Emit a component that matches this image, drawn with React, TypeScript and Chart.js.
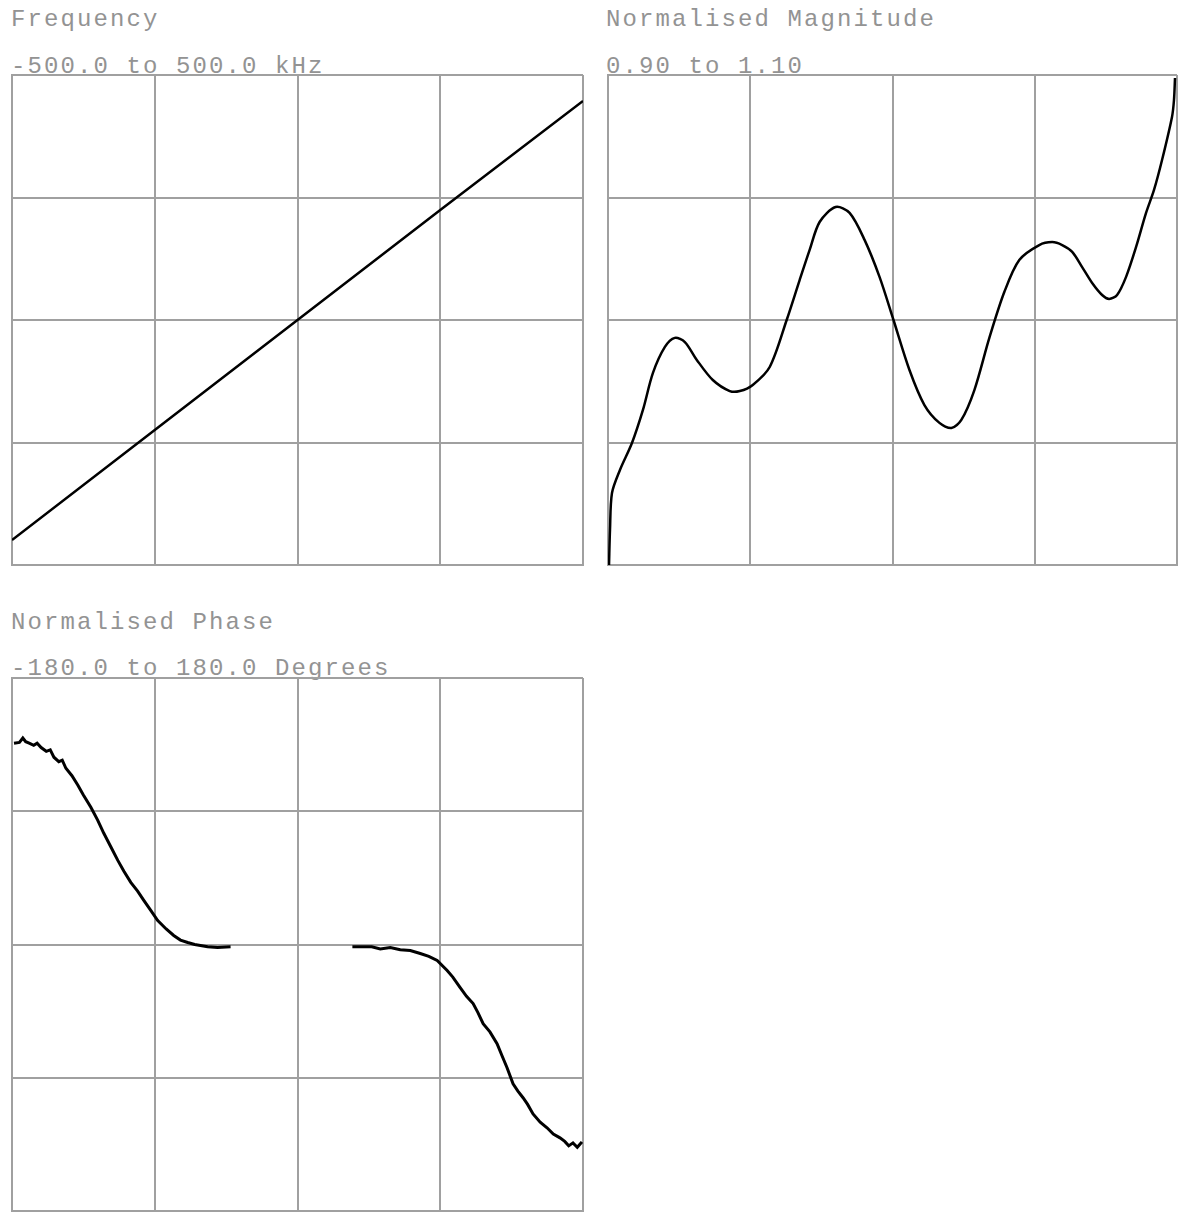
import React, { useEffect, useRef } from "react";
import { Chart, registerables } from "chart.js";

Chart.register(...registerables);

// ---- Data ----
const freqX = [-500, -250, 0, 250, 500];
const freqY = [-449, -224.5, 0, 224.5, 447];

const magX = [
  -498.2, -496.5, -493, -479, -457.9, -438.6, -421, -400, -382.5, -364.9, -343.9, -315.8, -286, -268.4,
  -245.6, -215.8, -186, -163.2, -145.6, -128.1, -100, -75.4, -49.1, -22.8, 1.75, 29.8, 56.1, 82.5, 103.5,
  121, 143.9, 170.2, 196.5, 222.8, 257.9, 280.7, 298.2, 315.8, 333.3, 350.9, 368.4, 380.7, 394.7, 410.5,
  428.1, 445.6, 459.6, 473.7, 491.2, 494.7, 496.5,
];
const magY = [
  0.9, 0.9143, 0.9294, 0.9388, 0.9498, 0.9633, 0.9784, 0.989, 0.9927, 0.991, 0.9837, 0.9755, 0.971, 0.971,
  0.9735, 0.9808, 1.0, 1.0163, 1.0286, 1.04, 1.0461, 1.0437, 1.0327, 1.0176, 1.0, 0.9796, 0.9653, 0.958,
  0.9559, 0.9592, 0.9714, 0.9927, 1.0114, 1.0245, 1.0306, 1.0318, 1.0306, 1.0278, 1.0216, 1.0151, 1.0102,
  1.0086, 1.0102, 1.0176, 1.0298, 1.0437, 1.0531, 1.0653, 1.0829, 1.0898, 1.0988,
];

const phaseX = [
  -496.5, -487, -481, -476, -470, -462, -456, -449, -440, -433, -426.6, -418, -412, -405.6, -395, -384.6,
  -375, -361.9, -350, -339.2, -327, -314.7, -304, -292, -280, -269.2, -257, -244.8, -230, -216.8, -205,
  -192.3, -180, -157.4, -140, -117.2, 0, 96.1, 130, 145, 162.5, 180, 197.5, 215, 230, 244.6, 262.1, 272,
  284.9, 296, 307.6, 316, 325.1, 337, 349.5, 358, 367, 377.5, 386, 395, 403, 412.5, 425, 437, 448, 459.7,
  468, 475, 482.4, 490, 498.1,
];
const phaseY: (number | null)[] = [
  136, 136.5, 139.5, 137, 136, 134.5, 136, 133, 130.5, 131.5, 126.5, 123.5, 124.5, 119, 114, 107.6, 101,
  92.7, 84, 75.1, 66, 56.8, 49.5, 42, 36, 29.8, 23, 16.2, 10.5, 6.1, 3, 1.35, 0, -1.5, -2, -1.5, null, -1.5,
  -1.5, -3, -2, -3.5, -4.1, -6.1, -8, -10.8, -17.6, -22, -29.1, -35, -39.9, -46, -53.5, -59, -67, -75,
  -83.2, -94.1, -99, -103.5, -108, -114.4, -120, -123.8, -128, -130.6, -133, -136, -134, -137, -133.3,
];

const titles = [
  { name: "Frequency", range: "-500.0 to 500.0 kHz" },
  { name: "Normalised Magnitude", range: "0.90 to 1.10" },
  { name: "Normalised Phase", range: "-180.0 to 180.0 Degrees" },
];

const GRID = "#a0a0a0";
const PAD = 4;

type PanelProps = {
  left: number;
  top: number;
  width: number;
  height: number;
  xs: number[];
  ys: (number | null)[];
  yMin: number;
  yMax: number;
  yStep: number;
  lineWidth: number;
  tension: number;
};

function Panel({ left, top, width, height, xs, ys, yMin, yMax, yStep, lineWidth, tension }: PanelProps) {
  const ref = useRef<HTMLCanvasElement>(null);
  useEffect(() => {
    if (!ref.current) return;
    const data = xs.map((x, i) => ({ x, y: ys[i] }));
    const chart = new Chart(ref.current, {
      type: "line",
      data: {
        datasets: [
          {
            data: data as any,
            borderColor: "#000",
            borderWidth: lineWidth,
            pointRadius: 0,
            tension,
            spanGaps: false,
          },
        ],
      },
      options: {
        animation: false,
        responsive: false,
        layout: { padding: PAD },
        plugins: { legend: { display: false }, tooltip: { enabled: false }, title: { display: false } },
        scales: {
          x: {
            type: "linear",
            min: -500,
            max: 500,
            ticks: { display: false, stepSize: 250 },
            grid: { color: GRID, lineWidth: 2, drawTicks: false },
            border: { display: true, color: GRID, width: 2 },
            afterFit: (s: any) => {
              s.height = 0;
            },
          },
          y: {
            type: "linear",
            min: yMin,
            max: yMax,
            ticks: { display: false, stepSize: yStep },
            grid: { color: GRID, lineWidth: 2, drawTicks: false },
            border: { display: true, color: GRID, width: 2 },
            afterFit: (s: any) => {
              s.width = 0;
            },
          },
        },
      },
    });
    return () => chart.destroy();
  }, []);
  return (
    <canvas
      ref={ref}
      width={width + PAD * 2}
      height={height + PAD * 2}
      style={{ position: "absolute", left: left - PAD, top: top - PAD, width: width + PAD * 2, height: height + PAD * 2 }}
    />
  );
}

const textStyle: React.CSSProperties = {
  position: "absolute",
  fontFamily: "'Liberation Mono', 'DejaVu Sans Mono', monospace",
  fontSize: 24,
  lineHeight: "24px",
  letterSpacing: "2.1px",
  color: "#939393",
  whiteSpace: "pre",
};

export default function App() {
  return (
    <div style={{ position: "absolute", left: 0, top: 0, width: 1179, height: 1215, background: "#fff", overflow: "hidden" }}>
      <div style={{ ...textStyle, left: 11, top: 8 }}>{titles[0].name}</div>
      <div style={{ ...textStyle, left: 11, top: 55 }}>{titles[0].range}</div>
      <div style={{ ...textStyle, left: 606, top: 8 }}>{titles[1].name}</div>
      <div style={{ ...textStyle, left: 606, top: 55 }}>{titles[1].range}</div>
      <div style={{ ...textStyle, left: 11, top: 611 }}>{titles[2].name}</div>
      <div style={{ ...textStyle, left: 11, top: 657 }}>{titles[2].range}</div>
      <Panel left={12} top={75} width={571} height={490} xs={freqX} ys={freqY} yMin={-500} yMax={500} yStep={250} lineWidth={2.5} tension={0} />
      <Panel left={608} top={75} width={569} height={490} xs={magX} ys={magY} yMin={0.9} yMax={1.1} yStep={0.05} lineWidth={2.5} tension={0.3} />
      <Panel left={12} top={678} width={571} height={533} xs={phaseX} ys={phaseY} yMin={-180} yMax={180} yStep={90} lineWidth={3} tension={0} />
    </div>
  );
}
